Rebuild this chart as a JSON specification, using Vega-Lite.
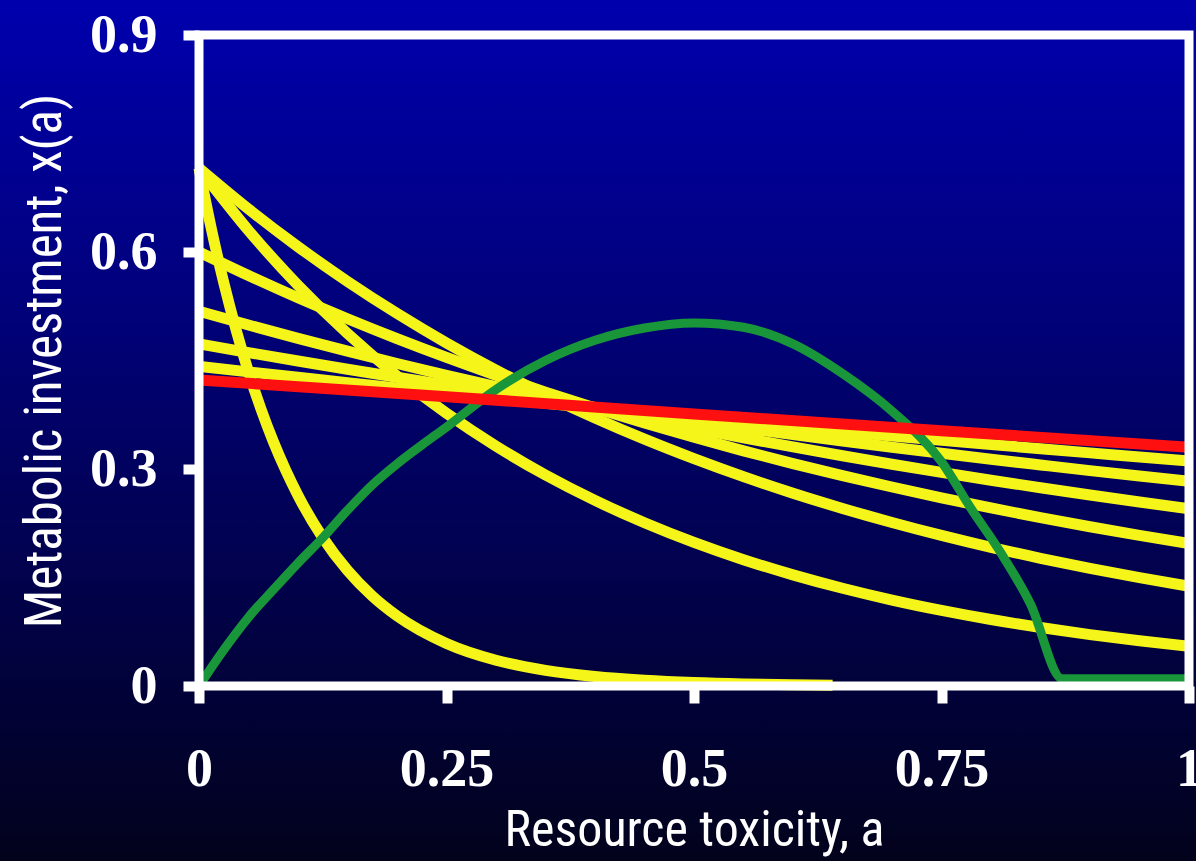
{
  "$schema": "https://vega.github.io/schema/vega-lite/v6.json",
  "width": 990,
  "height": 651,
  "autosize": "none",
  "padding": {"left": 199, "top": 35, "right": 7, "bottom": 175},
  "background": "#000060",
  "config": {"view": {"stroke": null}},
  "datasets": {
    "curves": [
      {"series": "Y1", "a": 0, "x": 0.442}, {"series": "Y1", "a": 0.05, "x": 0.4343}, {"series": "Y1", "a": 0.1, "x": 0.4268}, {"series": "Y1", "a": 0.15, "x": 0.4193}, {"series": "Y1", "a": 0.2, "x": 0.412}, {"series": "Y1", "a": 0.25, "x": 0.4049}, {"series": "Y1", "a": 0.3, "x": 0.3978}, {"series": "Y1", "a": 0.35, "x": 0.3909}, {"series": "Y1", "a": 0.4, "x": 0.3841}, {"series": "Y1", "a": 0.45, "x": 0.3774}, {"series": "Y1", "a": 0.5, "x": 0.3709}, {"series": "Y1", "a": 0.55, "x": 0.3644}, {"series": "Y1", "a": 0.6, "x": 0.3581}, {"series": "Y1", "a": 0.65, "x": 0.3518}, {"series": "Y1", "a": 0.7, "x": 0.3457}, {"series": "Y1", "a": 0.75, "x": 0.3397}, {"series": "Y1", "a": 0.8, "x": 0.3338}, {"series": "Y1", "a": 0.85, "x": 0.328}, {"series": "Y1", "a": 0.9, "x": 0.3223}, {"series": "Y1", "a": 0.95, "x": 0.3167}, {"series": "Y1", "a": 1, "x": 0.311},
      {"series": "Y2", "a": 0, "x": 0.473}, {"series": "Y2", "a": 0.05, "x": 0.461}, {"series": "Y2", "a": 0.1, "x": 0.4493}, {"series": "Y2", "a": 0.15, "x": 0.4379}, {"series": "Y2", "a": 0.2, "x": 0.4268}, {"series": "Y2", "a": 0.25, "x": 0.416}, {"series": "Y2", "a": 0.3, "x": 0.4054}, {"series": "Y2", "a": 0.35, "x": 0.3951}, {"series": "Y2", "a": 0.4, "x": 0.3851}, {"series": "Y2", "a": 0.45, "x": 0.3753}, {"series": "Y2", "a": 0.5, "x": 0.3658}, {"series": "Y2", "a": 0.55, "x": 0.3565}, {"series": "Y2", "a": 0.6, "x": 0.3475}, {"series": "Y2", "a": 0.65, "x": 0.3387}, {"series": "Y2", "a": 0.7, "x": 0.3301}, {"series": "Y2", "a": 0.75, "x": 0.3217}, {"series": "Y2", "a": 0.8, "x": 0.3135}, {"series": "Y2", "a": 0.85, "x": 0.3056}, {"series": "Y2", "a": 0.9, "x": 0.2978}, {"series": "Y2", "a": 0.95, "x": 0.2903}, {"series": "Y2", "a": 1, "x": 0.283},
      {"series": "Y3", "a": 0, "x": 0.518}, {"series": "Y3", "a": 0.05, "x": 0.499}, {"series": "Y3", "a": 0.1, "x": 0.4806}, {"series": "Y3", "a": 0.15, "x": 0.463}, {"series": "Y3", "a": 0.2, "x": 0.4459}, {"series": "Y3", "a": 0.25, "x": 0.4295}, {"series": "Y3", "a": 0.3, "x": 0.4138}, {"series": "Y3", "a": 0.35, "x": 0.3985}, {"series": "Y3", "a": 0.4, "x": 0.3839}, {"series": "Y3", "a": 0.45, "x": 0.3698}, {"series": "Y3", "a": 0.5, "x": 0.3562}, {"series": "Y3", "a": 0.55, "x": 0.3431}, {"series": "Y3", "a": 0.6, "x": 0.3305}, {"series": "Y3", "a": 0.65, "x": 0.3183}, {"series": "Y3", "a": 0.7, "x": 0.3066}, {"series": "Y3", "a": 0.75, "x": 0.2954}, {"series": "Y3", "a": 0.8, "x": 0.2845}, {"series": "Y3", "a": 0.85, "x": 0.2741}, {"series": "Y3", "a": 0.9, "x": 0.264}, {"series": "Y3", "a": 0.95, "x": 0.2543}, {"series": "Y3", "a": 1, "x": 0.245},
      {"series": "Y4", "a": 0, "x": 0.6}, {"series": "Y4", "a": 0.05, "x": 0.5675}, {"series": "Y4", "a": 0.1, "x": 0.5367}, {"series": "Y4", "a": 0.15, "x": 0.5077}, {"series": "Y4", "a": 0.2, "x": 0.4802}, {"series": "Y4", "a": 0.25, "x": 0.4542}, {"series": "Y4", "a": 0.3, "x": 0.4296}, {"series": "Y4", "a": 0.35, "x": 0.4063}, {"series": "Y4", "a": 0.4, "x": 0.3843}, {"series": "Y4", "a": 0.45, "x": 0.3635}, {"series": "Y4", "a": 0.5, "x": 0.3438}, {"series": "Y4", "a": 0.55, "x": 0.3251}, {"series": "Y4", "a": 0.6, "x": 0.3075}, {"series": "Y4", "a": 0.65, "x": 0.2909}, {"series": "Y4", "a": 0.7, "x": 0.2751}, {"series": "Y4", "a": 0.75, "x": 0.2602}, {"series": "Y4", "a": 0.8, "x": 0.2461}, {"series": "Y4", "a": 0.85, "x": 0.2328}, {"series": "Y4", "a": 0.9, "x": 0.2202}, {"series": "Y4", "a": 0.95, "x": 0.2082}, {"series": "Y4", "a": 1, "x": 0.197},
      {"series": "Y5", "a": 0, "x": 0.716}, {"series": "Y5", "a": 0.05, "x": 0.6594}, {"series": "Y5", "a": 0.1, "x": 0.6073}, {"series": "Y5", "a": 0.15, "x": 0.5593}, {"series": "Y5", "a": 0.2, "x": 0.5151}, {"series": "Y5", "a": 0.25, "x": 0.4743}, {"series": "Y5", "a": 0.3, "x": 0.4368}, {"series": "Y5", "a": 0.35, "x": 0.4023}, {"series": "Y5", "a": 0.4, "x": 0.3705}, {"series": "Y5", "a": 0.45, "x": 0.3412}, {"series": "Y5", "a": 0.5, "x": 0.3143}, {"series": "Y5", "a": 0.55, "x": 0.2894}, {"series": "Y5", "a": 0.6, "x": 0.2665}, {"series": "Y5", "a": 0.65, "x": 0.2455}, {"series": "Y5", "a": 0.7, "x": 0.2261}, {"series": "Y5", "a": 0.75, "x": 0.2082}, {"series": "Y5", "a": 0.8, "x": 0.1917}, {"series": "Y5", "a": 0.85, "x": 0.1766}, {"series": "Y5", "a": 0.9, "x": 0.1626}, {"series": "Y5", "a": 0.95, "x": 0.1498}, {"series": "Y5", "a": 1, "x": 0.1379},
      {"series": "Y6", "a": 0, "x": 0.716}, {"series": "Y6", "a": 0.05, "x": 0.6298}, {"series": "Y6", "a": 0.1, "x": 0.554}, {"series": "Y6", "a": 0.15, "x": 0.4873}, {"series": "Y6", "a": 0.2, "x": 0.4286}, {"series": "Y6", "a": 0.25, "x": 0.377}, {"series": "Y6", "a": 0.3, "x": 0.3316}, {"series": "Y6", "a": 0.35, "x": 0.2917}, {"series": "Y6", "a": 0.4, "x": 0.2566}, {"series": "Y6", "a": 0.45, "x": 0.2257}, {"series": "Y6", "a": 0.5, "x": 0.1985}, {"series": "Y6", "a": 0.55, "x": 0.1746}, {"series": "Y6", "a": 0.6, "x": 0.1536}, {"series": "Y6", "a": 0.65, "x": 0.1351}, {"series": "Y6", "a": 0.7, "x": 0.1188}, {"series": "Y6", "a": 0.75, "x": 0.1045}, {"series": "Y6", "a": 0.8, "x": 0.0919}, {"series": "Y6", "a": 0.85, "x": 0.0809}, {"series": "Y6", "a": 0.9, "x": 0.0711}, {"series": "Y6", "a": 0.95, "x": 0.0626}, {"series": "Y6", "a": 1, "x": 0.055},
      {"series": "Y7", "a": 0, "x": 0.716}, {"series": "Y7", "a": 0.0125, "x": 0.6319}, {"series": "Y7", "a": 0.025, "x": 0.5576}, {"series": "Y7", "a": 0.0375, "x": 0.4921}, {"series": "Y7", "a": 0.05, "x": 0.4343}, {"series": "Y7", "a": 0.0625, "x": 0.3833}, {"series": "Y7", "a": 0.075, "x": 0.3382}, {"series": "Y7", "a": 0.0875, "x": 0.2985}, {"series": "Y7", "a": 0.1, "x": 0.2634}, {"series": "Y7", "a": 0.125, "x": 0.2051}, {"series": "Y7", "a": 0.15, "x": 0.1598}, {"series": "Y7", "a": 0.175, "x": 0.1244}, {"series": "Y7", "a": 0.2, "x": 0.0969}, {"series": "Y7", "a": 0.25, "x": 0.0588}, {"series": "Y7", "a": 0.3, "x": 0.0356}, {"series": "Y7", "a": 0.35, "x": 0.0216}, {"series": "Y7", "a": 0.4, "x": 0.0131}, {"series": "Y7", "a": 0.45, "x": 0.008}, {"series": "Y7", "a": 0.5, "x": 0.0048}, {"series": "Y7", "a": 0.55, "x": 0.0029}, {"series": "Y7", "a": 0.6, "x": 0.0018}, {"series": "Y7", "a": 0.64, "x": 0.0012},
      {"series": "green", "a": 0, "x": 0.0}, {"series": "green", "a": 0.025, "x": 0.05}, {"series": "green", "a": 0.05, "x": 0.095}, {"series": "green", "a": 0.075, "x": 0.133}, {"series": "green", "a": 0.1, "x": 0.17}, {"series": "green", "a": 0.125, "x": 0.205}, {"series": "green", "a": 0.15, "x": 0.243}, {"series": "green", "a": 0.175, "x": 0.278}, {"series": "green", "a": 0.2, "x": 0.307}, {"series": "green", "a": 0.225, "x": 0.333}, {"series": "green", "a": 0.25, "x": 0.358}, {"series": "green", "a": 0.3, "x": 0.41}, {"series": "green", "a": 0.35, "x": 0.45}, {"series": "green", "a": 0.4, "x": 0.478}, {"series": "green", "a": 0.45, "x": 0.495}, {"series": "green", "a": 0.5, "x": 0.502}, {"series": "green", "a": 0.55, "x": 0.496}, {"series": "green", "a": 0.6, "x": 0.473}, {"series": "green", "a": 0.65, "x": 0.432}, {"series": "green", "a": 0.7, "x": 0.38}, {"series": "green", "a": 0.75, "x": 0.31}, {"series": "green", "a": 0.78, "x": 0.245}, {"series": "green", "a": 0.81, "x": 0.184}, {"series": "green", "a": 0.84, "x": 0.113}, {"series": "green", "a": 0.872, "x": 0.01}, {"series": "green", "a": 0.93, "x": 0.01}, {"series": "green", "a": 1, "x": 0.01},
      {"series": "red", "a": 0, "x": 0.423}, {"series": "red", "a": 0.25, "x": 0.4}, {"series": "red", "a": 0.5, "x": 0.376}, {"series": "red", "a": 0.75, "x": 0.353}, {"series": "red", "a": 1, "x": 0.33}
    ]
  },
  "layer": [
    {
      "data": {"values": [{"part": "backdrop"}]},
      "mark": {
        "type": "rect",
        "fill": {"gradient": "linear", "x1": 0, "y1": 0, "x2": 0, "y2": 1, "stops": [{"offset": 0, "color": "#0000AE"}, {"offset": 1, "color": "#02021C"}]}
      },
      "encoding": {
        "x": {
          "datum": -0.2015, "type": "quantitative",
          "scale": {"domain": [0, 1]},
          "axis": {
            "zindex": 5,
            "values": [0, 0.25, 0.5, 0.75, 1], "format": "~g",
            "domain": false, "grid": false,
            "tickColor": "white", "tickWidth": 10, "tickSize": 17,
            "labelFont": "Liberation Serif", "labelFontWeight": "bold", "labelFontSize": 54, "labelColor": "white",
            "labelPadding": 39, "labelFlush": false, "labelOverlap": false, "labelBound": false,
            "title": "Resource toxicity, a", "titleFont": "Roboto Condensed, DejaVu Sans Condensed, Liberation Sans Narrow, Arial Narrow, Liberation Sans, sans-serif", "titleFontSize": 50,
            "titleFontWeight": "normal", "titleColor": "white", "titlePadding": 9
          }
        },
        "x2": {"datum": 1.0075},
        "y": {
          "datum": -0.2425, "type": "quantitative",
          "scale": {"domain": [0, 0.9]},
          "axis": {
            "zindex": 5,
            "values": [0, 0.3, 0.6, 0.9], "format": "~g",
            "domain": false, "grid": false,
            "tickColor": "white", "tickWidth": 10, "tickSize": 16,
            "labelFont": "Liberation Serif", "labelFontWeight": "bold", "labelFontSize": 54, "labelColor": "white",
            "labelPadding": 26, "labelFlush": false, "labelOverlap": false, "labelBound": false,
            "title": "Metabolic investment, x(a)", "titleFont": "Roboto Condensed, DejaVu Sans Condensed, Liberation Sans Narrow, Arial Narrow, Liberation Sans, sans-serif", "titleFontSize": 51,
            "titleFontWeight": "normal", "titleColor": "white", "titlePadding": 18
          }
        },
        "y2": {"datum": 0.949}
      }
    },
    {
      "data": {"name": "curves"},
      "transform": [{"filter": "datum.series !== 'green' && datum.series !== 'red'"}],
      "mark": {"type": "line", "color": "#F5F51A", "strokeWidth": 11, "interpolate": "monotone", "strokeCap": "butt"},
      "encoding": {
        "x": {"field": "a", "type": "quantitative"},
        "y": {"field": "x", "type": "quantitative"},
        "detail": {"field": "series", "type": "nominal"}
      }
    },
    {
      "data": {"name": "curves"},
      "transform": [{"filter": "datum.series === 'green'"}],
      "mark": {"type": "line", "color": "#19963A", "strokeWidth": 9, "interpolate": "monotone"},
      "encoding": {
        "x": {"field": "a", "type": "quantitative"},
        "y": {"field": "x", "type": "quantitative"}
      }
    },
    {
      "data": {"name": "curves"},
      "transform": [{"filter": "datum.series === 'red'"}],
      "mark": {"type": "line", "color": "#FF1010", "strokeWidth": 11, "strokeCap": "butt"},
      "encoding": {
        "x": {"field": "a", "type": "quantitative"},
        "y": {"field": "x", "type": "quantitative"}
      }
    },
    {
      "data": {"values": [{"part": "frame"}]},
      "mark": {"type": "rect", "filled": false, "stroke": "white", "strokeWidth": 9},
      "encoding": {
        "x": {"datum": 0, "type": "quantitative"},
        "x2": {"datum": 1},
        "y": {"datum": 0, "type": "quantitative"},
        "y2": {"datum": 0.9}
      }
    }
  ]
}
